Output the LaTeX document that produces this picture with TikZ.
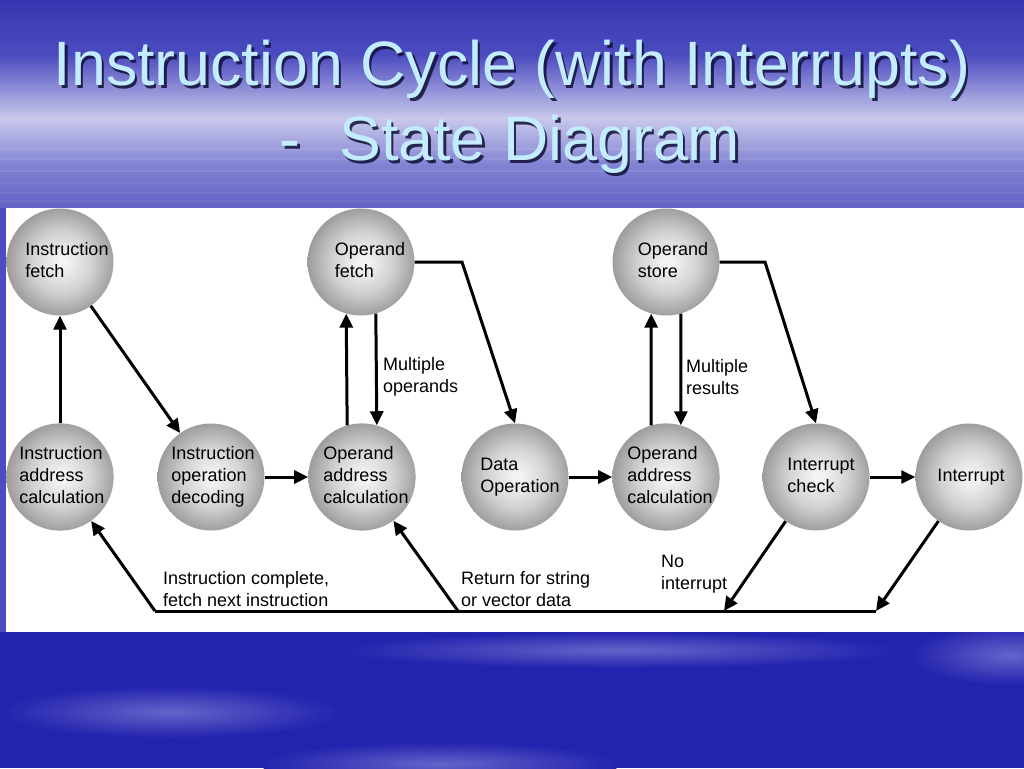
\documentclass[tikz,border=0pt]{standalone}
\usepackage{fontspec}
\setmainfont{Liberation Sans}
\usetikzlibrary{arrows.meta,shadings}
\definecolor{ballin}{HTML}{F4F4F4}
\definecolor{ballmid}{HTML}{D2D2D2}
\definecolor{ballout}{HTML}{9A9A9A}
\definecolor{titlec}{HTML}{C4ECFF}
\definecolor{titlesh}{HTML}{101038}
\definecolor{bgdeep}{HTML}{2323AE}
\definecolor{bgstreak}{RGB}{100,100,202}
\definecolor{bga}{RGB}{54,54,176}
\definecolor{bgb}{RGB}{76,76,192}
\definecolor{bgc}{RGB}{200,200,236}
\definecolor{bgd}{RGB}{130,130,210}
\definecolor{bge}{RGB}{96,96,198}
\definecolor{bgleft}{RGB}{76,76,190}
\pgfdeclareradialshading{ballg}{\pgfpoint{1bp}{0bp}}{color(0bp)=(ballin); color(2bp)=(ballin); color(14bp)=(ballmid); color(26bp)=(ballout); color(50bp)=(ballout)}
\pgfdeclareradialshading{streakg}{\pgfpointorigin}{color(0bp)=(bgstreak); color(25bp)=(bgdeep); color(50bp)=(bgdeep)}
\newcommand{\stxt}[2]{\hspace*{#1}\begin{tabular}{@{}l@{}}#2\end{tabular}\hspace*{-#1}}
\tikzset{
  state/.style={circle, minimum size=107pt, inner sep=0pt, shading=ballg,
    font=\fontsize{18}{22}\selectfont, text=black},
  arr/.style={line width=3pt, line join=miter, -{Triangle[length=14pt,width=13pt]}},
  ln/.style={line width=3pt},
  lbl/.style={align=left, font=\fontsize{18}{22}\selectfont, inner sep=0pt, anchor=west},
  ttl/.style={font=\fontsize{62.7}{70}\selectfont, text=titlec, inner sep=0pt, anchor=base},
  ttlsh/.style={ttl, text=titlesh, opacity=0.85},
  streak/.style={shading=streakg}
}
\begin{document}
\begin{tikzpicture}[x=1pt,y=-1pt]
\useasboundingbox (0,0) rectangle (1024,768);
% background
\fill[bgdeep] (0,0) rectangle (1024,768);
\shade[top color=bga, bottom color=bgb] (0,0) rectangle (1024,55);
\shade[top color=bgb, bottom color=bgc] (0,55) rectangle (1024,118);
\shade[top color=bgc, bottom color=bgd] (0,118) rectangle (1024,165);
\shade[top color=bgd, bottom color=bge] (0,165) rectangle (1024,210);
\foreach \yy/\op in {148/0.10,158/0.07,170/0.09,182/0.07,192/0.06,200/0.05}{
  \fill[white, opacity=\op] (0,\yy) rectangle (1024,\yy+2);
}
\fill[bgleft] (0,208) rectangle (6,632);
% bottom streaks
\shade[streak] (170,712) ellipse (170 and 26);
\shade[streak] (440,764) ellipse (180 and 22);
\shade[streak] (1010,655) ellipse (100 and 30);
\shade[streak] (620,650) ellipse (280 and 18);
% white panel
\fill[white] (6,208) rectangle (1024,632);
% title
\node[ttlsh] (t1s) at (514.5,88) {Instruction Cycle (with Interrupts)};
\node[ttl] (t1) at (512,85) {Instruction Cycle (with Interrupts)};
\node[ttlsh] (t2s) at (512.5,163) {-\hspace{0.62em}State Diagram};
\node[ttl] (t2) at (510,160) {-\hspace{0.62em}State Diagram};
% states
\node[state] (ifetch) at (60,262) {\stxt{7pt}{Instruction\\fetch}};
\node[state] (ofetch) at (361,262) {\stxt{9pt}{Operand\\fetch}};
\node[state] (ostore) at (666,262) {\stxt{7pt}{Operand\\store}};
\node[state] (iac) at (60,477) {\stxt{2pt}{Instruction\\address\\calculation}};
\node[state] (iod) at (211,477) {\stxt{2pt}{Instruction\\operation\\decoding}};
\node[state] (oac) at (362,477) {\stxt{4pt}{Operand\\address\\calculation}};
\node[state] (dop) at (515,477) {\stxt{5pt}{Data\\Operation}};
\node[state] (oac2) at (666,477) {\stxt{4pt}{Operand\\address\\calculation}};
\node[state] (icheck) at (816,477) {\stxt{5pt}{Interrupt\\check}};
\node[state] (intr) at (969,477) {\stxt{2pt}{Interrupt}};
% corner coordinates
\coordinate (k1) at (462,262);
\coordinate (k2) at (765,262);
\coordinate (b1) at (155,611);
\coordinate (b2) at (458,611);
\coordinate (b3) at (724,611);
\coordinate (b4) at (876,611);
% connectors
\draw[arr] (iac.north) -- (ifetch.south);
\draw[arr] (ifetch) -- (iod);
\draw[arr] (iod) -- (oac);
\draw[arr] (oac.106) -- (ofetch.254);
\draw[arr] (ofetch.286) -- (oac.74);
\draw[arr] (ofetch.east) -- (k1) -- (dop.north);
\draw[arr] (dop) -- (oac2);
\draw[arr] (oac2.106) -- (ostore.254);
\draw[arr] (ostore.286) -- (oac2.74);
\draw[arr] (ostore.east) -- (k2) -- (icheck.north);
\draw[arr] (icheck) -- (intr);
\draw[arr] (icheck) -- (b3);
\draw[arr] (intr) -- (b4);
\draw[ln] (b4) -- (b1);
\draw[arr] (b1) -- (iac);
\draw[arr] (b2) -- (oac);
% labels
\node[lbl] (l1) at (383,377) {Multiple\\operands};
\node[lbl] (l2) at (686,377) {Multiple\\results};
\node[lbl] (l3) at (163,589) {Instruction complete,\\fetch next instruction};
\node[lbl] (l4) at (461,589) {Return for string\\or vector data};
\node[lbl] (l5) at (661,574) {No\\interrupt};
\end{tikzpicture}
\end{document}
